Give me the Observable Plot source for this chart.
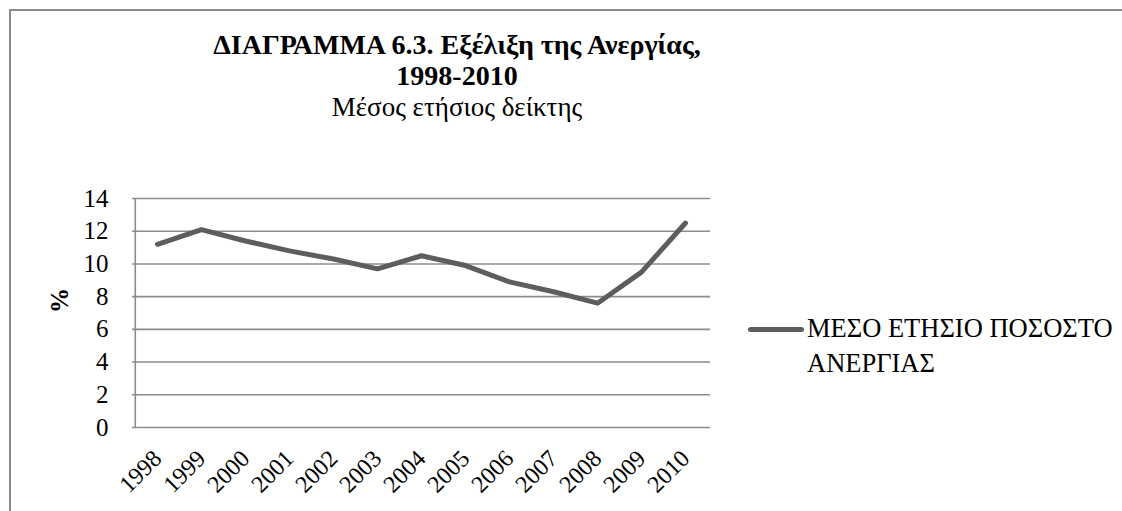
<!DOCTYPE html>
<html>
<head>
<meta charset="utf-8">
<script src="https://cdn.jsdelivr.net/npm/d3@7"></script>
<script src="https://cdn.jsdelivr.net/npm/@observablehq/plot@0.6"></script>
<style>
  body { margin: 0; background: #fff; }
  #wrap { position: relative; width: 1122px; height: 511px; overflow: hidden; background: #fff;
          font-family: "Liberation Serif", "Times New Roman", serif; color: #000; }
  #frame { position: absolute; left: 9px; top: 9px; width: 1300px; height: 700px;
           border-left: 2px solid #8a8a8a; border-top: 2px solid #8a8a8a; box-sizing: border-box; }
  #chart { position: absolute; left: 0; top: 0; }
  .t { position: absolute; left: 207px; width: 500px; text-align: center; font-size: 28px; line-height: 26px; white-space: nowrap; }
  .b { font-weight: bold; }
  #t3 { font-size: 27px; }
  #legend { position: absolute; left: 748px; top: 311px; }
  #swatch { position: absolute; left: 0; top: 16px; width: 56px; height: 5px; border-radius: 3px; background: #5d5d5d; }
  #ltext { position: absolute; left: 59px; top: 0; font-size: 26.5px; line-height: 35px; white-space: nowrap; }
</style>
</head>
<body>
<div id="wrap">
  <div id="frame"></div>
  <div id="chart"></div>
  <div class="t b" id="t1" style="top:31.5px"></div>
  <div class="t b" id="t2" style="top:62.5px"></div>
  <div class="t" id="t3" style="top:93.5px"></div>
  <div id="legend"><div id="swatch"></div><div id="ltext"></div></div>
</div>
<script>
const years = ["1998","1999","2000","2001","2002","2003","2004","2005","2006","2007","2008","2009","2010"];
const rates = [11.2, 12.1, 11.4, 10.8, 10.3, 9.7, 10.5, 9.9, 8.9, 8.3, 7.6, 9.5, 12.5];
const yTicks = [0, 2, 4, 6, 8, 10, 12, 14];
const titleLine1 = "ΔΙΑΓΡΑΜΜΑ 6.3. Εξέλιξη της Ανεργίας,";
const titleLine2 = "1998-2010";
const subtitle = "Μέσος ετήσιος δείκτης";
const yLabel = "%";
const seriesLine1 = "ΜΕΣΟ ΕΤΗΣΙΟ ΠΟΣΟΣΤΟ";
const seriesLine2 = "ΑΝΕΡΓΙΑΣ";

const data = years.map((y, i) => ({year: y, rate: rates[i]}));
const W = 1122, ML = 132, MR = 412;
const halfStep = (W - ML - MR) / years.length / 2;

const chart = Plot.plot({
  width: W,
  height: 511,
  marginLeft: ML,
  marginRight: MR,
  marginTop: 198,
  marginBottom: 84,
  style: {fontFamily: '"Liberation Serif", "Times New Roman", serif', background: "transparent", color: "#000"},
  x: {type: "point", domain: years, padding: 0.5},
  y: {domain: [0, 14]},
  marks: [
    Plot.ruleY(yTicks, {stroke: "#8c8c8c", strokeWidth: 1.6, strokeOpacity: 1}),
    Plot.ruleX([years[0]], {dx: -halfStep, y1: 0, y2: 14, stroke: "#8c8c8c", strokeWidth: 1.6}),
    Plot.axisY({ticks: yTicks, tickSize: 0, tickPadding: 24, fontSize: 25, label: null, fill: "#000"}),
    Plot.text([yLabel], {frameAnchor: "left", dx: -73, rotate: -90, fontSize: 25, fontWeight: "bold", fill: "#000"}),
    Plot.axisX({tickSize: 0, tickRotate: -45, tickPadding: 27, fontSize: 24, label: null, fill: "#000"}),
    Plot.line(data, {x: "year", y: "rate", stroke: "#5d5d5d", strokeWidth: 5, strokeLinecap: "round", strokeLinejoin: "round"})
  ]
});
document.getElementById("chart").appendChild(chart);
document.getElementById("t1").textContent = titleLine1;
document.getElementById("t2").textContent = titleLine2;
document.getElementById("t3").textContent = subtitle;
const l1 = document.createElement("div"); l1.textContent = seriesLine1;
const l2 = document.createElement("div"); l2.textContent = seriesLine2;
document.getElementById("ltext").append(l1, l2);
</script>
</body>
</html>
